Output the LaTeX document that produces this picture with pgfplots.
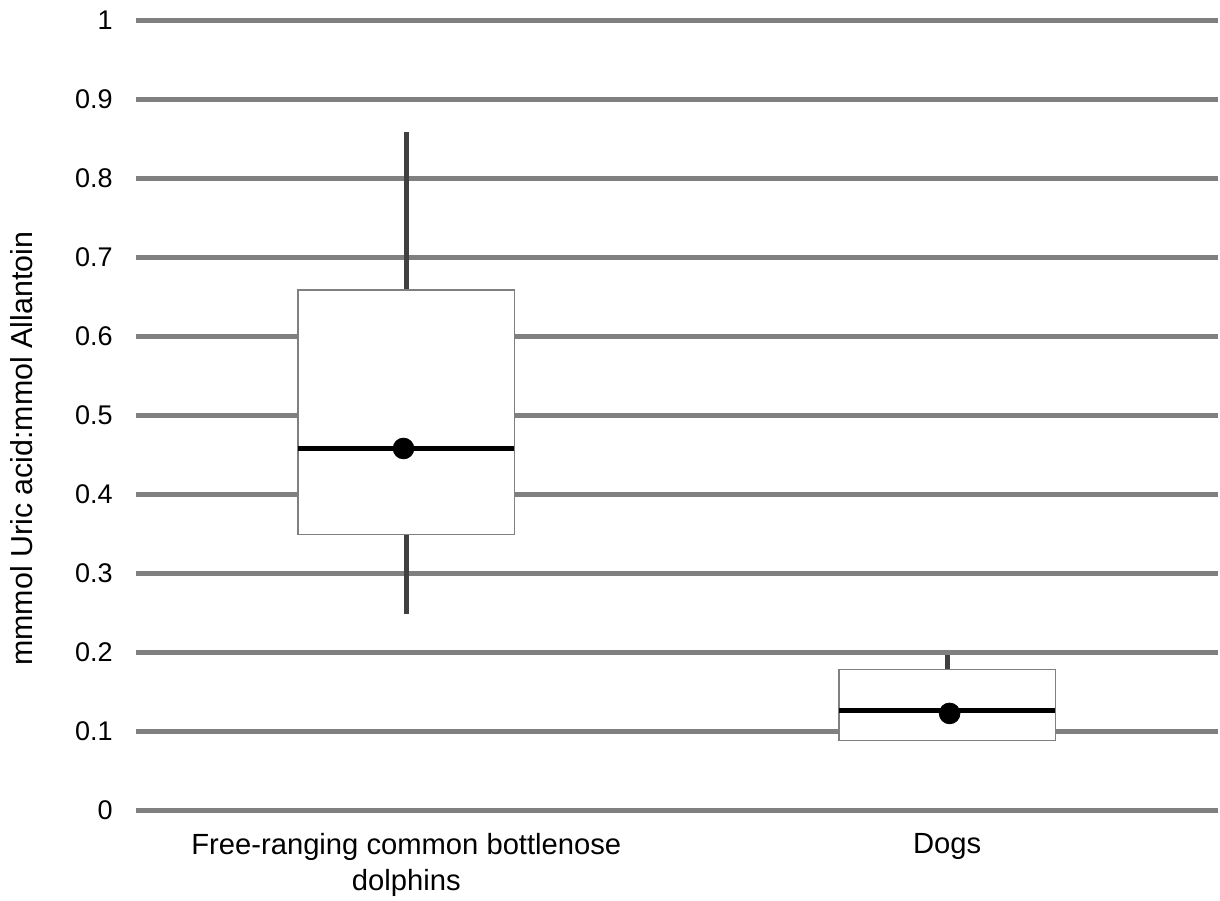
\documentclass[border=0pt]{standalone}
\usepackage{fontspec}
\setmainfont{Liberation Sans}
\usepackage{pgfplots}
\pgfplotsset{compat=1.18}
\usepgfplotslibrary{statistics}
\definecolor{gridgray}{HTML}{808080}
\definecolor{whiskgray}{HTML}{404040}
\begin{document}
\begin{tikzpicture}
\path (0bp,0bp) rectangle (610bp,450.5bp);
\begin{axis}[
  at={(68bp,45.25bp)}, anchor=south west,
  scale only axis, width=541bp, height=395bp,
  xmin=0, xmax=2, ymin=0, ymax=1,
  xtick={0.5,1.5},
  xticklabels={Free-ranging common bottlenose\\dolphins, Dogs},
  ytick={0,0.1,0.2,0.3,0.4,0.5,0.6,0.7,0.8,0.9,1},
  yticklabels={0,0.1,0.2,0.3,0.4,0.5,0.6,0.7,0.8,0.9,1},
  axis line style={draw=none},
  tick style={draw=none},
  major tick length=0pt,
  ymajorgrids,
  grid style={draw=gridgray, line width=2.5bp},
  yticklabel style={anchor=east, inner sep=0pt, xshift=-11.5bp, font=\fontsize{13.5bp}{16bp}\selectfont},
  xticklabel style={anchor=north, align=center, inner sep=0pt, yshift=-11.5bp, font=\fontsize{14.6bp}{18bp}\selectfont},
  ylabel={mmmol Uric acid:mmol Allantoin},
  ylabel style={at={(axis description cs:-0.0961,0.4576)}, anchor=base, rotate=0, font=\fontsize{15.2bp}{18bp}\selectfont},
  boxplot/draw direction=y,
  boxplot/every box/.style={draw=gridgray, fill=white, line width=0.75bp},
  boxplot/every whisker/.style={draw=whiskgray, line width=2.5bp},
  boxplot/every median/.style={draw=black, line width=2.5bp},
  clip=false,
]
\addplot[boxplot prepared={draw position=0.5, lower whisker=0.248, lower quartile=0.349, median=0.458, upper quartile=0.659, upper whisker=0.859, box extend=0.4, whisker extend=0}] coordinates {};
\addplot[boxplot prepared={draw position=1.5, lower whisker=0.088, lower quartile=0.088, median=0.126, upper quartile=0.178, upper whisker=0.196, box extend=0.4, whisker extend=0}] coordinates {};
\addplot[only marks, mark=*, mark size=5.2pt, black] coordinates {(0.4948,0.458) (1.5046,0.1225)};
\end{axis}
\end{tikzpicture}
\end{document}
